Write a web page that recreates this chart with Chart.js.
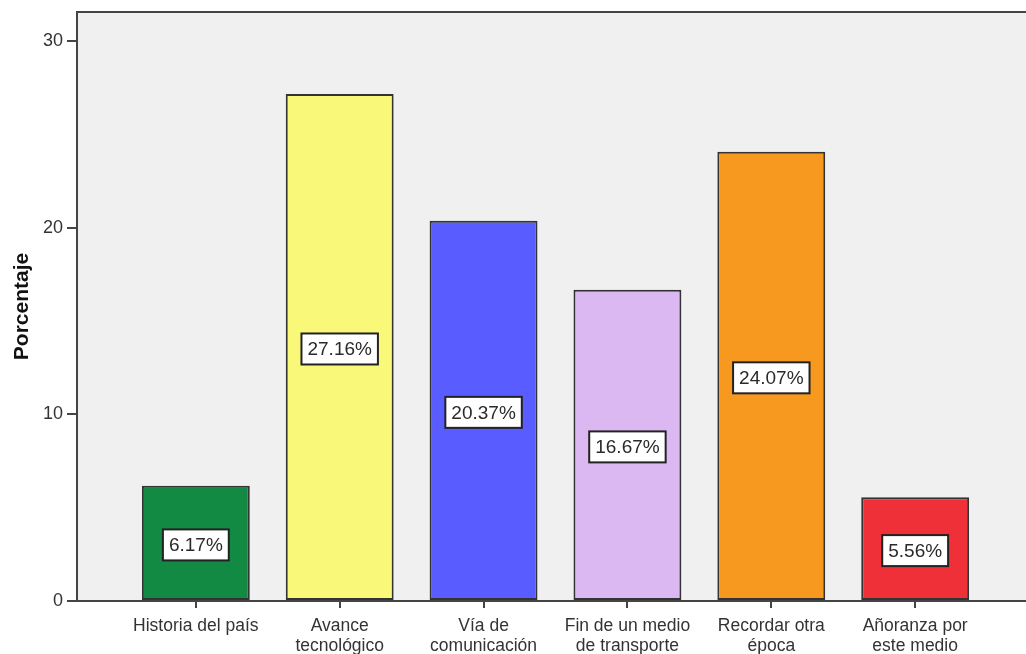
<!DOCTYPE html>
<html>
<head>
<meta charset="utf-8">
<script src="https://cdn.jsdelivr.net/npm/chart.js@4/dist/chart.umd.min.js"></script>
<style>
	html, body { margin: 0; padding: 0; background: #ffffff; overflow: hidden; }
	#wrap { width: 1026px; height: 654px; overflow: hidden; }
</style>
</head>
<body>
<div id="wrap"><canvas id="barChart" width="1040" height="654"></canvas></div>
<script>
// Chart data
var categories = [
	['Historia del país'],
	['Avance', 'tecnológico'],
	['Vía de', 'comunicación'],
	['Fin de un medio', 'de transporte'],
	['Recordar otra', 'época'],
	['Añoranza por', 'este medio']
];
var percentages = [6.17, 27.16, 20.37, 16.67, 24.07, 5.56];
var yTicks = [0, 10, 20, 30];

var barColors = ['#128a44', '#f9f878', '#595cff', '#dcb8f2', '#f7991f', '#ef3039'];

/**
 * Plot frame: grey background and top/left/right border
 */
var framePlugin = {
	id: 'frame',
	beforeDraw: function(chart) {
		var a = chart.chartArea;
		var ctx = chart.ctx;
		ctx.save();
		ctx.fillStyle = '#f0f0f0';
		ctx.fillRect(a.left, a.top, a.right - a.left, a.bottom - a.top);
		ctx.restore();
	},
	afterDraw: function(chart) {
		var a = chart.chartArea;
		var ctx = chart.ctx;
		ctx.save();
		ctx.strokeStyle = '#444444';
		ctx.lineWidth = 2;
		ctx.strokeRect(a.left, a.top, a.right - a.left, a.bottom - a.top);
		ctx.restore();
	}
};

/**
 * Value boxes drawn at the middle of each bar
 */
var valueBoxPlugin = {
	id: 'valueBoxes',
	afterDatasetsDraw: function(chart) {
		var ctx = chart.ctx;
		var meta = chart.getDatasetMeta(0);
		ctx.save();
		ctx.font = '19px "Liberation Sans", Arial, sans-serif';
		ctx.textAlign = 'center';
		ctx.textBaseline = 'middle';
		meta.data.forEach(function(bar, i) {
			var text = percentages[i].toFixed(2) + '%';
			var cy = (bar.y + bar.base) / 2 + 2;
			var w = ctx.measureText(text).width + 12;
			var h = 31;
			ctx.fillStyle = '#ffffff';
			ctx.fillRect(bar.x - w / 2, cy - h / 2, w, h);
			ctx.strokeStyle = '#222222';
			ctx.lineWidth = 2;
			ctx.strokeRect(bar.x - w / 2, cy - h / 2, w, h);
			ctx.fillStyle = '#2a2a2a';
			ctx.fillText(text, bar.x, cy + 1);
		});
		ctx.restore();
	}
};

var ctx = document.getElementById('barChart').getContext('2d');

new Chart(ctx, {
	type: 'bar',
	data: {
		datasets: [{
			label: 'Porcentaje',
			data: percentages.map(function(v, i) { return { x: i, y: v }; }),
			backgroundColor: barColors,
			borderColor: '#333333',
			borderWidth: 2,
			borderSkipped: false,
			barPercentage: 0.75,
			categoryPercentage: 1
		}]
	},
	options: {
		responsive: false,
		animation: false,
		layout: {
			padding: { left: 0, top: 12, right: 6, bottom: 0 }
		},
		plugins: {
			legend: { display: false },
			tooltip: { enabled: false }
		},
		scales: {
			x: {
				type: 'linear',
				min: -0.826,
				max: 5.826,
				offset: false,
				afterBuildTicks: function(scale) {
					scale.ticks = categories.map(function(c, i) { return { value: i }; });
				},
				afterFit: function(scale) {
					scale.height = 53;
					scale.paddingLeft = 0;
					scale.paddingRight = 0;
				},
				ticks: {
					callback: function(value) {
						return categories[value] || '';
					},
					color: '#333333',
					font: { family: '"Liberation Sans", Arial, sans-serif', size: 17.5, lineHeight: 1.1 },
					maxRotation: 0,
					autoSkip: false,
					padding: 9
				},
				grid: {
					offset: false,
					drawOnChartArea: false,
					drawTicks: true,
					tickLength: 7,
					color: '#444444',
					lineWidth: 2
				},
				border: { color: '#444444', width: 2 }
			},
			y: {
				min: 0,
				max: 31.55,
				afterBuildTicks: function(scale) {
					scale.ticks = yTicks.map(function(v) { return { value: v }; });
				},
				afterFit: function(scale) {
					scale.width = 77;
					scale.paddingTop = 0;
					scale.paddingBottom = 0;
				},
				title: {
					display: true,
					text: 'Porcentaje',
					color: '#111111',
					font: { family: '"Liberation Sans", Arial, sans-serif', size: 21, weight: 'bold' },
					padding: { top: 10, bottom: 0 }
				},
				ticks: {
					color: '#333333',
					font: { family: '"Liberation Sans", Arial, sans-serif', size: 18 },
					padding: 4
				},
				grid: {
					drawOnChartArea: false,
					drawTicks: true,
					tickLength: 10,
					color: '#444444',
					lineWidth: 2
				},
				border: { color: '#444444', width: 2 }
			}
		}
	},
	plugins: [framePlugin, valueBoxPlugin]
});
</script>
</body>
</html>
